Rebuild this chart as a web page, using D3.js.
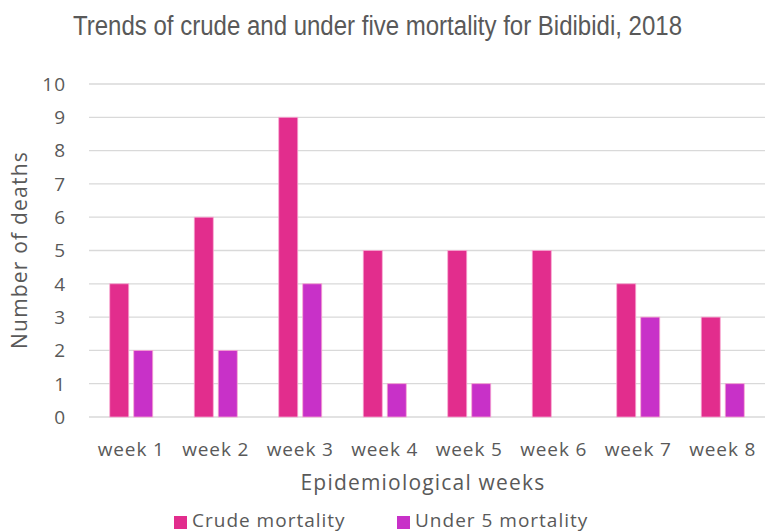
<!DOCTYPE html>
<html><head><meta charset="utf-8">
<script src="https://cdn.jsdelivr.net/npm/d3@7"></script>
<style>body{margin:0;background:#fff}svg{display:block}</style>
</head><body>
<svg id="c" width="767" height="532"></svg>
<script>
const categories = ["week 1","week 2","week 3","week 4","week 5","week 6","week 7","week 8"];
const crudeMortality = [4,6,9,5,5,5,4,3];
const under5Mortality = [2,2,4,1,1,0,3,1];
const seriesNames = ["Crude mortality","Under 5 mortality"];
const seriesColors = ["#E22D8D","#C831C8"];
const yTicks = [0,1,2,3,4,5,6,7,8,9,10];

const svg = d3.select("#c");
const font = "'Open Sans', Lato, sans-serif";
const textColor = "#595959";
const m = {left:89, right:765, top:84, bottom:417};

const x = d3.scaleBand().domain(categories).range([m.left, m.right]).paddingInner(0).paddingOuter(0);
const y = d3.scaleLinear().domain([0,10]).range([m.bottom, m.top]);

// gridlines
svg.append("g").selectAll("line").data(yTicks).join("line")
  .attr("x1", m.left).attr("x2", m.right)
  .attr("y1", d=>y(d)).attr("y2", d=>y(d))
  .attr("stroke", "#d9d9d9").attr("stroke-width", 1.3);

// y tick labels
svg.append("g").selectAll("text").data(yTicks).join("text")
  .attr("x", 66).attr("y", d=>y(d)).attr("dy","0.36em")
  .attr("text-anchor","end").attr("font-family",font).attr("font-size",19)
  .attr("letter-spacing",1).attr("fill",textColor).text(d=>d);

const barW = 19, gap = 5;
const series = [crudeMortality, under5Mortality];
series.forEach((vals, si) => {
  svg.append("g").selectAll("rect").data(categories).join("rect")
    .attr("x", (c)=> x(c) + x.bandwidth()/2 - (barW + gap/2) + si*(barW+gap))
    .attr("y", (c,i)=> y(vals[i]))
    .attr("width", barW)
    .attr("height", (c,i)=> y(0) - y(vals[i]))
    .attr("fill", seriesColors[si])
    .attr("stroke", "#f7a8d2").attr("stroke-width", 0.8);
});

// x labels
svg.append("g").selectAll("text").data(categories).join("text")
  .attr("x", c=> x(c)+x.bandwidth()/2).attr("y", 456)
  .attr("text-anchor","middle").attr("font-family",font).attr("font-size",19)
  .attr("letter-spacing",0.9).attr("fill",textColor).text(c=>c);

// axis titles
svg.append("text").attr("x", 423).attr("y", 490)
  .attr("text-anchor","middle").attr("font-family",font).attr("font-size",21)
  .attr("letter-spacing",1.2).attr("fill",textColor).text("Epidemiological weeks");
svg.append("text").attr("transform","translate(27,250) rotate(-90)")
  .attr("text-anchor","middle").attr("font-family",font).attr("font-size",21)
  .attr("letter-spacing",1.2).attr("fill",textColor).text("Number of deaths");

// title
svg.append("text").attr("x", 73).attr("y", 35)
  .attr("font-family","'Liberation Sans Narrow', 'Arial Narrow', 'Liberation Sans', sans-serif")
  .attr("font-size",27).attr("textLength",609).attr("lengthAdjust","spacingAndGlyphs")
  .attr("fill",textColor).text("Trends of crude and under five mortality for Bidibidi, 2018");

// legend
const legX = [174, 397];
seriesNames.forEach((n,i)=>{
  svg.append("rect").attr("x", legX[i]).attr("y", 516).attr("width", 13).attr("height", 13).attr("fill", seriesColors[i]);
  svg.append("text").attr("x", legX[i]+18).attr("y", 527).attr("font-family",font).attr("font-size",19)
    .attr("letter-spacing",1).attr("fill",textColor).text(n);
});
</script>
</body></html>
